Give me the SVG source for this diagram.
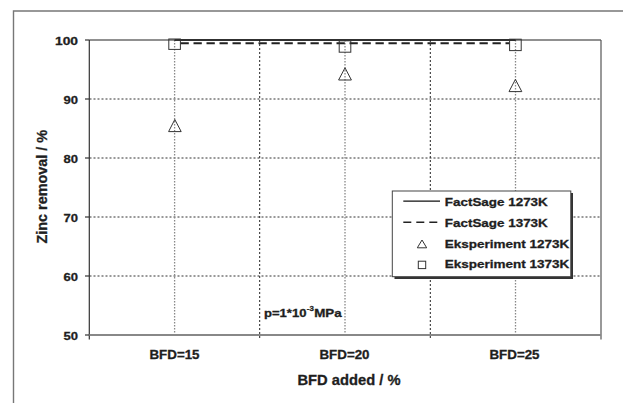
<svg xmlns="http://www.w3.org/2000/svg" width="623" height="403" viewBox="0 0 623 403">
<style>
text{font-family:"Liberation Sans",Arial,sans-serif;font-weight:bold;fill:#1e1e1e;stroke:#1e1e1e;stroke-width:0.3}
.tick{font-size:11.6px}
.xl{font-size:12px}
.lg{font-size:11.2px}
.title{font-size:14px}
.gridh{stroke:#333;stroke-width:1;stroke-dasharray:2 2;fill:none}
.gridv{stroke:#222;stroke-width:1;stroke-dasharray:2 2;fill:none}
.gridc{stroke:#888;stroke-width:1.3;stroke-dasharray:1.5 1.5;fill:none}
.mk{fill:none;stroke:#333;stroke-width:1}
</style>
<rect x="0" y="0" width="623" height="403" fill="#fff"/>
<g id="frame">
<polyline points="13.5,403 13.5,11 623,11" fill="none" stroke="#777" stroke-width="1.4"/>
</g>
<g id="grid">
<line class="gridh" x1="89.5" y1="99" x2="601" y2="99"/>
<line class="gridh" x1="89.5" y1="158" x2="601" y2="158"/>
<line class="gridh" x1="89.5" y1="217" x2="601" y2="217"/>
<line class="gridh" x1="89.5" y1="276" x2="601" y2="276"/>
<line class="gridv" x1="259.7" y1="40" x2="259.7" y2="339.5"/>
<line class="gridv" x1="430.3" y1="40" x2="430.3" y2="339.5"/>
<line class="gridc" x1="174.6" y1="40" x2="174.6" y2="337"/>
<line class="gridc" x1="345" y1="40" x2="345" y2="337"/>
<line class="gridc" x1="515.5" y1="40" x2="515.5" y2="337"/>
</g>
<g id="axes">
<line x1="89.3" y1="40" x2="89.3" y2="339.5" stroke="#333" stroke-width="1.2"/>
<line x1="89.3" y1="40" x2="601" y2="40" stroke="#222" stroke-width="1.2"/>
<line x1="601" y1="40" x2="601" y2="339.5" stroke="#555" stroke-width="1.2"/>
<line x1="89.3" y1="335" x2="601" y2="335" stroke="#888" stroke-width="2"/>
<g stroke="#333" stroke-width="1.2">
<line x1="85" y1="40" x2="89.3" y2="40"/>
<line x1="85" y1="99" x2="89.3" y2="99"/>
<line x1="85" y1="158" x2="89.3" y2="158"/>
<line x1="85" y1="217" x2="89.3" y2="217"/>
<line x1="85" y1="276" x2="89.3" y2="276"/>
<line x1="85" y1="335" x2="89.3" y2="335"/>
</g>
</g>
<g id="ylabels">
<text class="tick" x="55" y="44.5" textLength="23" lengthAdjust="spacingAndGlyphs">100</text>
<text class="tick" x="63.5" y="103.5" textLength="14.5" lengthAdjust="spacingAndGlyphs">90</text>
<text class="tick" x="63.5" y="162.5" textLength="14.5" lengthAdjust="spacingAndGlyphs">80</text>
<text class="tick" x="63.5" y="221.5" textLength="14.5" lengthAdjust="spacingAndGlyphs">70</text>
<text class="tick" x="63.5" y="280.5" textLength="14.5" lengthAdjust="spacingAndGlyphs">60</text>
<text class="tick" x="63.5" y="339.5" textLength="14.5" lengthAdjust="spacingAndGlyphs">50</text>
</g>
<g id="xlabels">
<text class="xl" x="149.5" y="359.3" textLength="50" lengthAdjust="spacingAndGlyphs">BFD=15</text>
<text class="xl" x="319.5" y="359.3" textLength="50" lengthAdjust="spacingAndGlyphs">BFD=20</text>
<text class="xl" x="489.5" y="359.3" textLength="50" lengthAdjust="spacingAndGlyphs">BFD=25</text>
</g>
<g id="titles">
<text class="title" x="297.5" y="385" textLength="103" lengthAdjust="spacingAndGlyphs">BFD added / %</text>
<text class="title" transform="translate(46.5,243.5) rotate(-90)" x="0" y="0" textLength="113.5" lengthAdjust="spacingAndGlyphs">Zinc removal / %</text>
</g>
<g id="connectors">
<line x1="174.6" y1="40" x2="515.5" y2="40" stroke="#111" stroke-width="1.3"/>
<line x1="180.5" y1="43.3" x2="509.5" y2="43.3" stroke="#222" stroke-width="2" stroke-dasharray="8.3 4.7"/>
</g>
<g id="series-squares">
<rect class="mk" x="168.8" y="39" width="11.6" height="10.4"/>
<rect class="mk" x="339.2" y="40.8" width="11.6" height="11.4"/>
<rect class="mk" x="509.6" y="39.2" width="11.6" height="11.4"/>
</g>
<g id="series-triangles">
<polygon class="mk" points="174.8,119.5 168.6,131.6 181.2,131.6"/>
<polygon class="mk" points="345,67.8 338.6,80 351.4,80"/>
<polygon class="mk" points="515.4,79.4 509,91.6 521.8,91.6"/>
</g>
<g id="annotation">
<text x="264" y="316.6" font-size="10.6" textLength="42.5" lengthAdjust="spacingAndGlyphs">p=1*10</text>
<text x="306.8" y="311" font-size="7.5" textLength="7" lengthAdjust="spacingAndGlyphs">-3</text>
<text x="314.2" y="316.6" font-size="10.6" textLength="27.5" lengthAdjust="spacingAndGlyphs">MPa</text>
</g>
<g id="legend">
<rect x="394.5" y="193" width="178.5" height="86" fill="#333"/>
<rect x="392.3" y="191" width="178.5" height="85.7" fill="#fff" stroke="#444" stroke-width="1"/>
<line x1="403.3" y1="201.2" x2="440" y2="201.2" stroke="#111" stroke-width="1.3"/>
<line x1="403.3" y1="222.2" x2="440" y2="222.2" stroke="#222" stroke-width="1.6" stroke-dasharray="8 5"/>
<polygon class="mk" points="422,240 417.3,247.8 426.7,247.8"/>
<rect class="mk" x="418.3" y="261.2" width="7.4" height="7.4"/>
<text class="lg" x="444.8" y="205.8" textLength="103" lengthAdjust="spacingAndGlyphs">FactSage 1273K</text>
<text class="lg" x="444.8" y="226.7" textLength="103" lengthAdjust="spacingAndGlyphs">FactSage 1373K</text>
<text class="lg" x="444.8" y="247.5" textLength="124.5" lengthAdjust="spacingAndGlyphs">Eksperiment 1273K</text>
<text class="lg" x="444.8" y="268.2" textLength="124.5" lengthAdjust="spacingAndGlyphs">Eksperiment 1373K</text>
</g>
</svg>
